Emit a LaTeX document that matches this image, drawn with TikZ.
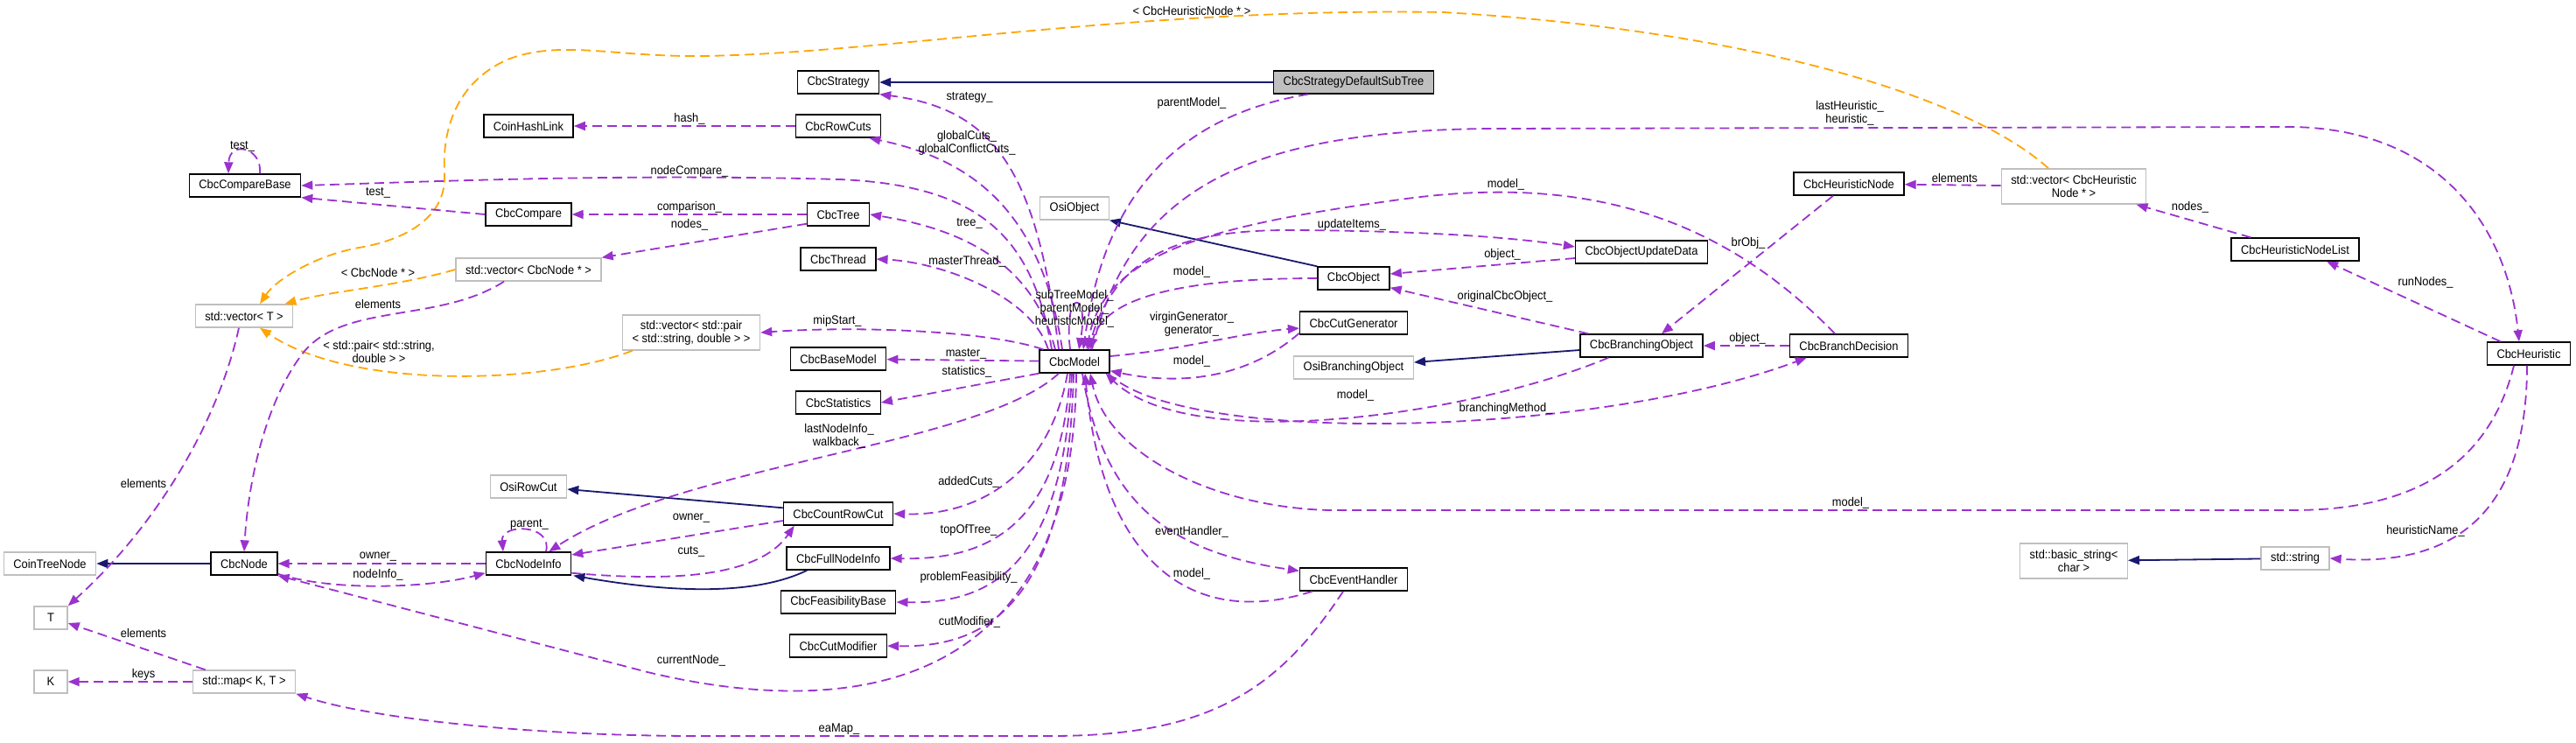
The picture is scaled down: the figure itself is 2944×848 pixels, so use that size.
\documentclass[tikz,border=0pt]{standalone}
\usepackage{fontspec}
\setmainfont{Liberation Sans}[FakeStretch=0.92]
\definecolor{dxPurple}{HTML}{9A32CD}
\definecolor{dxOrange}{HTML}{FFA500}
\definecolor{dxBlue}{HTML}{191970}
\definecolor{dxGrey}{HTML}{BFBFBF}
\usetikzlibrary{arrows.meta, calc}

\begin{document}
\begin{tikzpicture}[
        x=0.5pt, y=-0.5pt,
        cls/.style={
          draw=black,
          fill=white,
          text=black,
          line width=0.7pt,
          inner xsep=5.5pt,
          inner ysep=0pt,
          minimum height=13pt,
          align=center,
          font=\fontsize{7}{7.5}\selectfont,
        },
        ext/.style={cls, draw=dxGrey},
        lbl/.style={font=\fontsize{7}{7.5}\selectfont, align=center, inner sep=0pt},
        use/.style={-{Triangle[length=6.5pt, width=5pt]}, dxPurple, line width=0.9pt, dash pattern=on 5.5pt off 3pt},
        tpl/.style={use, dxOrange},
        inh/.style={-{Triangle[length=6.5pt, width=5pt]}, dxBlue, line width=0.9pt},
      ]
        \useasboundingbox (0,0) rectangle (2944,848);

        \node[cls] (strategy) at (958,94) {CbcStrategy};
        \node[cls, fill=dxGrey] (subtree) at (1547,94) {CbcStrategyDefaultSubTree};
        \node[cls] (hashlink) at (604,144) {CoinHashLink};
        \node[cls] (rowcuts) at (958,144) {CbcRowCuts};
        \node[cls] (comparebase) at (280,212) {CbcCompareBase};
        \node[cls] (compare) at (604,245) {CbcCompare};
        \node[cls] (tree) at (958,245) {CbcTree};
        \node[ext] (osiobject) at (1228,238) {OsiObject};
        \node[cls] (thread) at (958,296) {CbcThread};
        \node[ext] (vecnode) at (604,308) {std::vector< CbcNode * >};
        \node[ext] (vect) at (279,361) {std::vector< T >};
        \node[ext, minimum height=20pt] (vecpair) at (790,380) {std::vector< std::pair\\< std::string, double > >};
        \node[cls] (basemodel) at (958,410) {CbcBaseModel};
        \node[cls] (model) at (1228,413) {CbcModel};
        \node[cls] (statistics) at (958,460) {CbcStatistics};
        \node[ext] (osirowcut) at (604,556) {OsiRowCut};
        \node[cls] (countrowcut) at (958,587) {CbcCountRowCut};
        \node[cls] (fullnodeinfo) at (958,638) {CbcFullNodeInfo};
        \node[ext] (coinnode) at (57,644) {CoinTreeNode};
        \node[cls] (node) at (279,644) {CbcNode};
        \node[cls] (nodeinfo) at (604,644) {CbcNodeInfo};
        \node[cls] (feasibility) at (958,688) {CbcFeasibilityBase};
        \node[ext, minimum width=19pt] (tparam) at (58,706) {T};
        \node[cls] (cutmodifier) at (958,738) {CbcCutModifier};
        \node[ext, minimum width=19pt] (kparam) at (58,779) {K};
        \node[ext] (map) at (279,779) {std::map< K, T >};
        \node[cls] (heurnode) at (2113,210) {CbcHeuristicNode};
        \node[ext, minimum height=20pt] (vecheur) at (2370,213) {std::vector< CbcHeuristic\\Node * >};
        \node[cls] (updatedata) at (1876,288) {CbcObjectUpdateData};
        \node[cls] (nodelist) at (2623,285) {CbcHeuristicNodeList};
        \node[cls] (object) at (1547,318) {CbcObject};
        \node[cls] (cutgen) at (1547,369) {CbcCutGenerator};
        \node[cls] (branchobj) at (1876,395) {CbcBranchingObject};
        \node[cls] (branchdec) at (2113,395) {CbcBranchDecision};
        \node[cls] (heuristic) at (2890,404) {CbcHeuristic};
        \node[ext] (osibranch) at (1547,420) {OsiBranchingObject};
        \node[cls] (eventhandler) at (1547,662) {CbcEventHandler};
        \node[ext, minimum height=20pt] (basicstring) at (2370,641) {std::basic\_string<\\char >};
        \node[ext] (stdstring) at (2623,638) {std::string};

        \draw[inh] (subtree) -- (strategy);
        \draw[inh] (object.north west) -- (osiobject.south east);
        \draw[inh] ($(branchobj.west)+(0,5)$) -- ($(osibranch.east)+(0,-6)$);
        \draw[inh] (node) -- (coinnode);
        \draw[inh] ($(countrowcut.north west)+(0,7)$) -- ($(osirowcut.east)+(0,3)$);
        \draw[inh] ($(fullnodeinfo.south west)+(24,0)$) .. controls (860,682) and (760,676) .. ($(nodeinfo.south east)+(2,0)$);
        \draw[inh] (stdstring) -- (basicstring);

        \draw[tpl] ($(vecheur.north)+(-29,0)$) .. controls (2250,110) and (2000,35) .. (1650,14)
          .. controls (1300,8) and (1000,62) .. (800,64) .. controls (700,65) and (640,45) .. (580,68)
          .. controls (520,95) and (505,150) .. (508,200) .. controls (510,250) and (460,275) .. (410,283)
          .. controls (360,292) and (315,320) .. ($(vect.north)+(18,0)$);
        \draw[tpl] (vecnode.west) .. controls (450,328) and (380,332) .. ($(vect.north east)+(-10,0)$);
        \draw[tpl] ($(vecpair.south west)+(12,0)$) .. controls (620,440) and (400,445) .. ($(vect.south)+(18,0)$);

        \draw[use] ($(comparebase.north)+(17,0)$) .. controls (300,168) and (262,160) .. ($(comparebase.north)+(-19,0)$);
        \draw[use] (compare.west) -- (comparebase.south east);
        \draw[use] (rowcuts) -- (hashlink);
        \draw[use] (tree) -- (compare);
        \draw[use] ($(tree.south west)+(0,-3)$) -- (vecnode.north east);
        \draw[use] ($(vecnode.south)+(-28,0)$) .. controls (500,370) and (390,345) .. (345,405)
          .. controls (300,465) and (283,560) .. (node.north);
        \draw[use] ($(vect.south)+(-6,0)$) .. controls (250,480) and (180,600) .. (tparam.north east);
        \draw[use] ($(map.north west)+(15,0)$) -- ($(tparam.east)+(0,6)$);
        \draw[use] (map) -- (kparam);
        \draw[use] (nodeinfo) -- (node);
        \draw[use] ($(node.south east)+(0,-2)$) .. controls (380,676) and (490,672) .. ($(nodeinfo.south west)+(0,-3)$);
        \draw[use] ($(nodeinfo.north)+(20,0)$) .. controls (632,598) and (572,598) .. ($(nodeinfo.north)+(-29,0)$);
        \draw[use] ($(countrowcut.west)+(0,8)$) -- ($(nodeinfo.east)+(0,-10)$);
        \draw[use] ($(nodeinfo.south east)+(0,-3)$) .. controls (760,664) and (865,662) .. ($(countrowcut.south west)+(13,0)$);

        \draw[use] ($(model.north)+(-18,0)$) .. controls (1185,200) and (1140,125) .. (strategy.south east);
        \draw[use] ($(model.north)+(-14,0)$) .. controls (1190,240) and (1110,182) .. ($(rowcuts.south east)+(-14,0)$);
        \draw[use] ($(model.north)+(-26,0)$) .. controls (1180,270) and (1120,212) .. (960,205)
          .. controls (700,198) and (480,208) .. (comparebase.east);
        \draw[use] ($(model.north)+(-22,0)$) .. controls (1180,300) and (1100,262) .. (tree.east);
        \draw[use] ($(model.north)+(-30,0)$) .. controls (1180,340) and (1080,300) .. (thread.east);
        \draw[use] ($(model.north west)+(5,0)$) .. controls (1130,378) and (980,372) .. (vecpair.east);
        \draw[use] (model) -- (basemodel);
        \draw[use] (model.south west) -- (statistics.east);
        \draw[use] ($(model.south)+(-18,0)$) .. controls (1120,510) and (780,530) .. ($(nodeinfo.north east)+(-26,0)$);
        \draw[use] ($(model.south)+(-8,0)$) .. controls (1200,540) and (1120,590) .. (countrowcut.east);
        \draw[use] ($(model.south)+(-5,0)$) .. controls (1212,600) and (1130,640) .. (fullnodeinfo.east);
        \draw[use] ($(model.south)+(-3,0)$) .. controls (1215,650) and (1130,690) .. (feasibility.east);
        \draw[use] ($(model.south)+(-1,0)$) .. controls (1220,700) and (1120,740) .. (cutmodifier.east);
        \draw[use] ($(model.south)+(2,0)$) .. controls (1228,770) and (1000,830) .. (740,768) -- (node.south east);
        \draw[use] ($(model.south)+(9,0)$) .. controls (1260,570) and (1330,630) .. ($(eventhandler.north west)+(0,4)$);
        \draw[use] ($(eventhandler.south west)+(15,0)$) .. controls (1360,720) and (1260,640) .. ($(model.south)+(12,0)$);
        \draw[use] ($(eventhandler.south)+(-12,0)$) .. controls (1460,790) and (1380,841) .. (1200,841) -- (800,841)
          .. controls (600,841) and (420,820) .. (map.south east);
        \draw[use] ($(model.north)+(-5,0)$) .. controls (1215,330) and (1245,330) .. ($(model.north)+(5,0)$);
        \draw[use] ($(subtree.south west)+(40,0)$) .. controls (1300,140) and (1255,280) .. ($(model.north)+(10,0)$);
        \draw[use] (object.west) .. controls (1350,318) and (1262,340) .. ($(model.north)+(18,0)$);
        \draw[use] ($(model.north)+(16,0)$) .. controls (1270,290) and (1350,262) .. (1480,263)
          .. controls (1620,264) and (1720,270) .. ($(updatedata.west)+(0,-6)$);
        \draw[use] ($(branchdec.north)+(-16,0)$) .. controls (1960,240) and (1800,200) .. (1600,228)
          .. controls (1380,258) and (1262,290) .. ($(model.north)+(14,0)$);
        \draw[use] ($(model.north)+(20,0)$) .. controls (1290,220) and (1420,150) .. (1700,147) -- (2620,145)
          .. controls (2790,148) and (2865,260) .. ($(heuristic.north)+(-11,0)$);
        \draw[use] ($(model.east)+(0,-6)$) .. controls (1350,400) and (1420,380) .. ($(cutgen.west)+(0,6)$);
        \draw[use] ($(cutgen.south west)+(0,-2)$) .. controls (1440,420) and (1370,445) .. ($(model.south east)+(0,-3)$);
        \draw[use] ($(branchobj.south west)+(33,0)$) .. controls (1680,475) and (1360,520) .. ($(model.south east)+(-5,0)$);
        \draw[use] ($(model.south east)+(-2,0)$) .. controls (1350,510) and (1820,500) .. ($(branchdec.south west)+(20,0)$);
        \draw[use] ($(heuristic.south)+(-17,0)$) .. controls (2845,530) and (2760,583) .. (2620,583) -- (1520,583)
          .. controls (1390,580) and (1265,520) .. ($(model.south)+(18,0)$);
        \draw[use] ($(heuristic.south)+(-2,0)$) .. controls (2888,570) and (2820,648) .. (stdstring.east);
        \draw[use] ($(heuristic.north west)+(16,0)$) -- ($(nodelist.south)+(36,0)$);
        \draw[use] ($(nodelist.north west)+(23,0)$) -- ($(vecheur.south east)+(-12,0)$);
        \draw[use] (vecheur) -- (heurnode);
        \draw[use] ($(heurnode.south)+(-18,0)$) -- ($(branchobj.north)+(23,0)$);
        \draw[use] ($(updatedata.west)+(0,7)$) -- ($(object.east)+(0,-5)$);
        \draw[use] ($(branchobj.north west)+(10,0)$) -- ($(object.south east)+(0,-3)$);
        \draw[use] (branchdec) -- (branchobj);

        \node[lbl] (lheurvec) at (1362,12) {< CbcHeuristicNode * >};
        \node[lbl] (lstrategy) at (1108,111) {strategy\_};
        \node[lbl] (lparent) at (1362,118) {parentModel\_};
        \node[lbl] (lhash) at (788,136) {hash\_};
        \node[lbl] (lglobal) at (1105,163) {globalCuts\_\\globalConflictCuts\_};
        \node[lbl] (llastheur) at (2114,129) {lastHeuristic\_\\heuristic\_};
        \node[lbl] (ltestself) at (277,167) {test\_};
        \node[lbl] (lnodecmp) at (788,196) {nodeCompare\_};
        \node[lbl] (lmodeltop) at (1721,211) {model\_};
        \node[lbl] (lelemheur) at (2234,203) {elements};
        \node[lbl] (ltest) at (432,220) {test\_};
        \node[lbl] (lcomparison) at (788,237) {comparison\_};
        \node[lbl] (lnodes) at (788,257) {nodes\_};
        \node[lbl] (ltree) at (1108,255) {tree\_};
        \node[lbl] (lupdate) at (1545,257) {updateItems\_};
        \node[lbl] (lheurnodes) at (2503,237) {nodes\_};
        \node[lbl] (lbrobj) at (1998,278) {brObj\_};
        \node[lbl] (lobject) at (1717,291) {object\_};
        \node[lbl] (lthread) at (1105,299) {masterThread\_};
        \node[lbl] (lvecnode) at (432,311) {< CbcNode * >};
        \node[lbl] (lmodelobj) at (1362,311) {model\_};
        \node[lbl] (lrunnodes) at (2772,323) {runNodes\_};
        \node[lbl] (lorig) at (1720,339) {originalCbcObject\_};
        \node[lbl] (lself) at (1228,353) {subTreeModel\_\\parentModel\_\\heuristicModel\_};
        \node[lbl] (lelemnode) at (432,347) {elements};
        \node[lbl] (lgen) at (1362,370) {virginGenerator\_\\generator\_};
        \node[lbl] (lmip) at (957,367) {mipStart\_};
        \node[lbl] (lobjdec) at (1997,387) {object\_};
        \node[lbl] (lpair) at (433,402) {< std::pair< std::string,\\double > >};
        \node[lbl] (lmaster) at (1104,404) {master\_};
        \node[lbl] (lmodelgen) at (1362,413) {model\_};
        \node[lbl] (lstats) at (1105,425) {statistics\_};
        \node[lbl] (lmodelbr) at (1549,452) {model\_};
        \node[lbl] (lbranching) at (1721,467) {branchingMethod\_};
        \node[lbl] (llastinfo) at (959,498) {lastNodeInfo\_\\walkback\_};
        \node[lbl] (ladded) at (1107,551) {addedCuts\_};
        \node[lbl] (lelemvec) at (164,552) {elements};
        \node[lbl] (lmodelheur) at (2115,575) {model\_};
        \node[lbl] (lowner) at (790,592) {owner\_};
        \node[lbl] (lparentinfo) at (605,599) {parent\_};
        \node[lbl] (ltop) at (1107,606) {topOfTree\_};
        \node[lbl] (levent) at (1362,608) {eventHandler\_};
        \node[lbl] (lheurname) at (2772,607) {heuristicName\_};
        \node[lbl] (lcuts) at (790,630) {cuts\_};
        \node[lbl] (lownernode) at (432,636) {owner\_};
        \node[lbl] (lmodelev) at (1362,656) {model\_};
        \node[lbl] (lnodeinfo) at (432,657) {nodeInfo\_};
        \node[lbl] (lfeas) at (1107,660) {problemFeasibility\_};
        \node[lbl] (lcutmod) at (1108,711) {cutModifier\_};
        \node[lbl] (lelemmap) at (164,723) {elements};
        \node[lbl] (lcurrent) at (790,755) {currentNode\_};
        \node[lbl] (lkeys) at (164,771) {keys};
        \node[lbl] (leamap) at (959,833) {eaMap\_};
      \end{tikzpicture}
\end{document}
